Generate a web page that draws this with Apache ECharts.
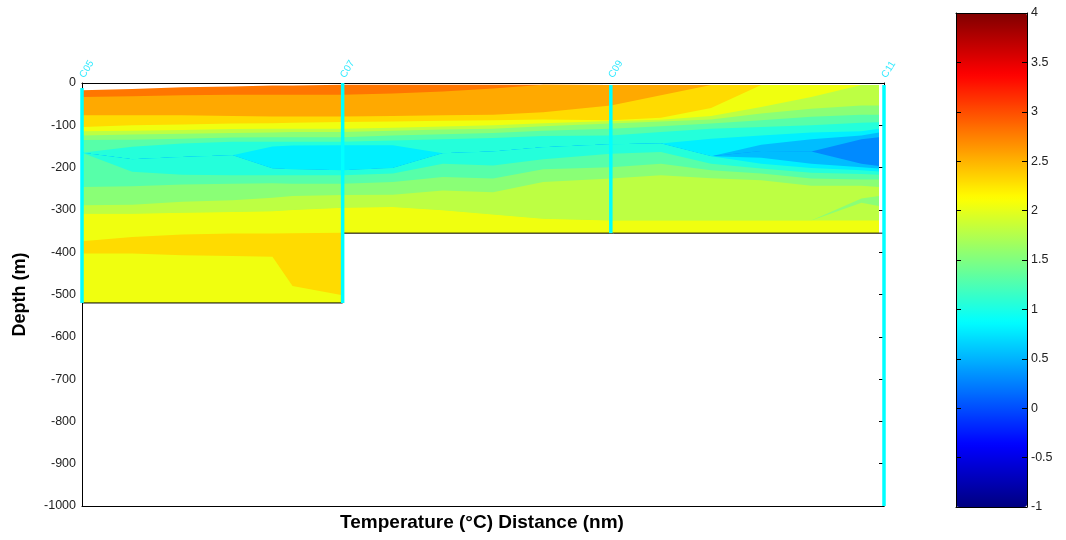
<!DOCTYPE html>
<html><head><meta charset="utf-8">
<script src="https://cdn.jsdelivr.net/npm/echarts@6/dist/echarts.min.js"></script>
<style>html,body{margin:0;padding:0;background:#fff}#c{width:1066px;height:540px}</style>
</head><body><div id="c"></div>
<script>
// ---- data (distance in nm, depth in m) ----
const distances  = [0, 2, 4, 6, 7.6, 8.4, 10.4, 12.4, 14.4, 16.4, 18.4, 21.1, 23.1, 25.1, 27.1, 29.1, 31.1, 31.8];
const surfaceTop = [-17,-14,-10,-8,-6,-6,-4,-4,-4,-4,-4,-5,-5,-5,-5,-5,-5,-5];
// bottom of each temperature layer, top to bottom
const bnd01 = [-33,-31.5,-29,-28,-28,-28,-28,-25,-20,-13,-4,-5,-5,-5,-5,-5,-5,-5];
const bnd02 = [-76,-76,-76,-78,-79,-79,-79,-78,-76,-75,-69,-53,-29,-5,-5,-5,-5,-5];
const bnd03 = [-104,-100,-98,-96,-95,-94,-92,-91,-89,-88,-86,-88,-82,-59,-5,-5,-5,-5];
const bnd04 = [-114,-113,-111,-109,-108,-108,-108,-106,-103,-100,-95,-90,-87,-78,-57,-33,-5,-5];
const bnd05 = [-124,-122,-120,-118,-117,-116,-116,-113,-110,-108,-102,-96,-91,-86,-72,-61,-53,-53];
const bnd06 = [-135,-134,-132,-129,-128,-128,-128,-124,-121,-118,-113,-108,-102,-96,-88,-80,-75,-75];
const bnd07 = [-165,-151,-143,-139,-139,-139,-139,-136,-133,-130,-125,-124,-116,-108,-104,-100,-94,-93];
const bnd08 = [-165,-180,-175,-171,-150,-148,-147,-147,-166,-162,-152,-145,-143,-132,-124,-117,-114,-108];
const bnd09 = [-165,-180,-175,-171,-202,-204,-206,-201,-166,-162,-152,-145,-143,-173,-146,-133,-124,-117];
const bnd10 = [-165,-180,-175,-171,-202,-204,-206,-201,-166,-162,-152,-145,-143,-173,-161,-162,-133,-128];
const bnd11 = [-165,-180,-175,-171,-202,-204,-206,-201,-166,-162,-152,-145,-143,-173,-161,-162,-191,-196];
const bnd12 = [-165,-180,-175,-171,-202,-204,-206,-201,-166,-162,-152,-145,-143,-173,-177,-191,-199,-202];
const bnd13 = [-165,-180,-175,-171,-202,-204,-206,-201,-166,-162,-152,-145,-143,-173,-191,-201,-206,-209];
const bnd14 = [-165,-210,-217,-218,-218,-218,-218,-214,-191,-195,-180,-167,-163,-191,-202,-212,-215,-217];
const bnd15 = [-246,-244,-240,-238,-237,-238,-238,-234,-222,-226,-204,-199,-191,-206,-214,-226,-228,-228];
const bnd16 = [-289,-288,-281,-277,-271,-267,-265,-264,-254,-258,-234,-226,-218,-225,-230,-243,-243,-246];
const bnd17 = [-309,-309,-307,-305,-303,-300,-295,-293,-301,-311,-321,-325,-325,-325,-325,-325,-273,-267];
const bnd18 = [-309,-309,-307,-305,-303,-300,-295,-293,-301,-311,-321,-325,-325,-325,-325,-325,-283,-291];
const bnd19 = [-309,-309,-307,-305,-303,-300,-295,-293,-301,-311,-321,-325,-325,-325,-325,-325,-325,-325];
const bnd20 = [-374,-364,-358,-356,-356,-355,-354,-355,-355,-355,-355,-355,-355,-355,-355,-355,-355,-355];
const bnd21 = [-403,-403,-407,-409,-411,-480,-502,-355,-355,-355,-355,-355,-355,-355,-355,-355,-355,-355];
const bnd22 = [-520,-520,-520,-520,-520,-520,-520,-355,-355,-355,-355,-355,-355,-355,-355,-355,-355,-355];
// temperature (°C) of each layer
const layerTemps = [2.8, 2.55, 2.3, 2.05, 1.8, 1.55, 1.3, 1.05, 0.8, 0.55, 0.3, 0.55, 0.8, 1.05, 1.3, 1.55, 1.8, 1.55, 1.8, 2.05, 2.3, 2.05];

const stationNames  = ['C05', 'C07', 'C09', 'C11'];
const stationDist   = [0, 10.4, 21.1, 32];
const stationTop    = [-12, 0, -5, -5];
const stationBottom = [-520, -520, -355, -1000];

const seabedDist  = [0, 10.4, 10.4, 32];
const seabedDepth = [-520, -520, -355, -355];

const boundaries = [bnd01,bnd02,bnd03,bnd04,bnd05,bnd06,bnd07,bnd08,bnd09,bnd10,bnd11,
                    bnd12,bnd13,bnd14,bnd15,bnd16,bnd17,bnd18,bnd19,bnd20,bnd21,bnd22];
const FLOOR = -520;
const FONT = 'Liberation Sans, Arial, sans-serif';
const jet = ['#000080','#0000FF','#0080FF','#00FFFF','#80FF80','#FFFF00','#FF8000','#FF0000','#800000'];

const chart = echarts.init(document.getElementById('c'), null, {renderer:'canvas'});

const blackLine = {show:true, onZero:false, lineStyle:{color:'#000', width:1}};
function xAx(grid, pos, max){
  return {gridIndex:grid, type:'value', min:0, max:max, position:pos,
    axisLine:blackLine, axisTick:{show:false}, axisLabel:{show:false}, splitLine:{show:false}, z:10};
}
const plain = v => String(v);

const option = {
  animation:false,
  backgroundColor:'#fff',
  grid:[
    {left:82, top:83, width:802, height:423},
    {left:956, top:13, width:71, height:494}
  ],
  xAxis:[ xAx(0,'bottom',32), xAx(0,'top',32), xAx(1,'bottom',1), xAx(1,'top',1) ],
  yAxis:[
    {gridIndex:0, type:'value', min:-1000, max:0, interval:100, position:'left',
     axisLine:blackLine, axisTick:{show:false},
     axisLabel:{fontSize:12.5, color:'#222', margin:6, fontFamily:FONT, formatter:plain}, splitLine:{show:false}, z:10},
    {gridIndex:0, type:'value', min:-1000, max:0, interval:100, position:'right',
     axisLine:blackLine, axisTick:{inside:true, length:5, lineStyle:{color:'#000'}},
     axisLabel:{show:false}, splitLine:{show:false}, z:10},
    {gridIndex:1, type:'value', min:-1, max:4, interval:0.5, position:'right',
     axisLine:blackLine, axisTick:{inside:true, length:5, lineStyle:{color:'#000'}},
     axisLabel:{fontSize:12.5, color:'#222', margin:4, fontFamily:FONT, formatter:plain}, splitLine:{show:false}, z:10},
    {gridIndex:1, type:'value', min:-1, max:4, interval:0.5, position:'left',
     axisLine:blackLine, axisTick:{inside:true, length:5, lineStyle:{color:'#000'}},
     axisLabel:{show:false}, splitLine:{show:false}, z:10}
  ],
  visualMap:{
    type:'continuous', min:-1, max:4, seriesIndex:0, dimension:1,
    inRange:{color:jet}, left:956, top:13, itemWidth:71, itemHeight:494,
    padding:0, calculable:false, hoverLink:false, orient:'vertical', text:null, z:1
  },
  graphic:[
    {type:'text', x:20, y:294.5, rotation:Math.PI/2,
     style:{text:'Depth (m)', font:'bold 18px '+FONT, fill:'#000', align:'center', verticalAlign:'middle'}},
    {type:'text', x:482, y:523,
     style:{text:'Temperature (°C) Distance (nm)', font:'bold 19px '+FONT, fill:'#000', align:'center', verticalAlign:'middle'}}
  ],
  series:[
    { // temperature layers
      type:'custom', xAxisIndex:0, yAxisIndex:0, z:2, clip:true,
      data: layerTemps.map((t,k)=>[k,t]),
      renderItem:function(params, api){
        const k = api.value(0);
        const top = k===0 ? surfaceTop : boundaries[k-1];
        const pts = distances.map((d,i)=>api.coord([d, top[i]]));
        pts.push(api.coord([distances[distances.length-1], FLOOR]));
        pts.push(api.coord([distances[0], FLOOR]));
        return {type:'polygon', shape:{points:pts}, style:{fill:api.visual('color')}};
      }
    },
    { // seabed mask
      type:'custom', xAxisIndex:0, yAxisIndex:0, z:5, clip:true,
      data:[[0,0]],
      renderItem:function(params, api){
        const line = seabedDist.map((d,i)=>api.coord([d, seabedDepth[i]]));
        const poly = line.concat([api.coord([32,-1000]), api.coord([0,-1000])]);
        return {type:'group', children:[
          {type:'polygon', shape:{points:poly}, style:{fill:'#fff'}},
          {type:'polyline', shape:{points:line}, style:{stroke:'#000', lineWidth:1, fill:null}}
        ]};
      }
    },
    { // station lines
      type:'custom', xAxisIndex:0, yAxisIndex:0, z:20, clip:false,
      data: stationDist.map((d,i)=>[i, d]),
      renderItem:function(params, api){
        const i = api.value(0);
        const a = api.coord([stationDist[i], stationTop[i]]);
        const b = api.coord([stationDist[i], stationBottom[i]]);
        return {type:'line', shape:{x1:a[0], y1:a[1], x2:b[0], y2:b[1]}, style:{stroke:'#00FFFF', lineWidth:3.5}};
      }
    },
    { // station labels
      type:'scatter', xAxisIndex:0, yAxisIndex:0, z:20, symbolSize:0, silent:true,
      data: stationDist.map((d,i)=>({value:[d,0], name:stationNames[i]})),
      label:{show:true, position:'top', distance:6, rotate:58, align:'left', verticalAlign:'middle',
        formatter:'{b}', color:'#00E5FF', fontSize:10, fontFamily:FONT}
    }
  ]
};
chart.setOption(option);
</script></body></html>
